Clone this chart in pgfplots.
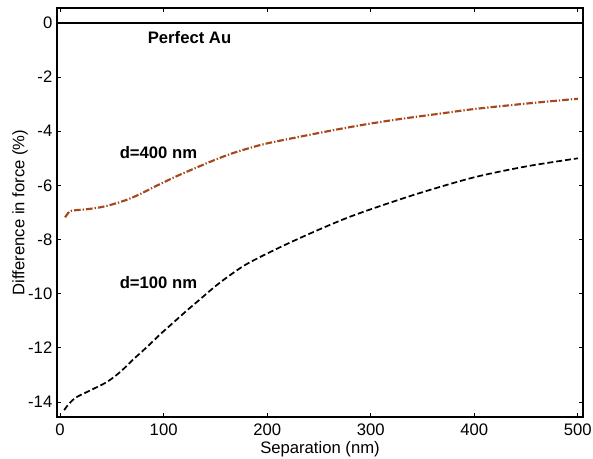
\documentclass[border=0pt]{standalone}
\usepackage{fontspec}
\setmainfont{Liberation Sans}
\usepackage{pgfplots}
\pgfplotsset{compat=1.18}
\definecolor{rust}{RGB}{165,72,28}

\begin{document}
\begin{tikzpicture}
\begin{axis}[
    scale only axis,
    width=394.5pt,
    height=306.75pt,
    xmin=-3, xmax=505,
    ymin=-14.55, ymax=0.55,
    xtick={0,100,...,500},
    ytick={-14,-12,...,0},
    tick align=inside,
    major tick length=3pt,
    axis line style={line width=1.4pt},
    tick style={black, line width=0.8pt},
    tick label style={font=\fontsize{12.5}{14}\selectfont},
    xticklabel style={yshift=-1.5pt},
    label style={font=\fontsize{12.5}{14}\selectfont},
    /pgf/number format/assume math mode=true,
    xlabel={Separation (nm)},
    ylabel={Difference in force (\%)},
    xlabel style={at={(axis description cs:0.5,0)}, anchor=center, yshift=-24pt},
    ylabel style={yshift=-6.5pt},
    clip=true,
]
\addplot[black, line width=1.1pt] coordinates {(-3,0) (505,0)};

\addplot[rust, line width=1.6pt, dash pattern=on 5pt off 1.5pt on 1pt off 1.5pt, smooth] coordinates {
    (4.8,-7.18) (9,-6.97) (14,-6.92) (25.8,-6.88) (38.6,-6.81) (51.5,-6.69)
    (64.4,-6.53) (77.3,-6.32) (90.1,-6.07) (103.1,-5.83) (116,-5.60)
    (128.8,-5.39) (141.7,-5.18) (154.6,-4.98) (167.4,-4.80) (183,-4.62)
    (199.7,-4.45) (231.9,-4.20) (264,-3.96) (296,-3.74) (330,-3.54)
    (365,-3.36) (400,-3.18) (450,-2.98) (500,-2.80)
};

\addplot[black, line width=1.3pt, dash pattern=on 4.5pt off 2.2pt, smooth] coordinates {
    (4,-14.3) (6.5,-14.16) (14.5,-13.85) (29,-13.57) (45.1,-13.26) (58,-12.89)
    (70.8,-12.42) (83.8,-11.97) (96.6,-11.5) (109.5,-11.06) (122.4,-10.62)
    (135.3,-10.2) (148.1,-9.78) (161,-9.40) (180.4,-8.90) (212.6,-8.28)
    (244.7,-7.72) (277,-7.20) (309.2,-6.76) (350,-6.25) (400,-5.70)
    (450,-5.30) (500,-5.0)
};

\node[font=\bfseries\fontsize{12.5}{14}\selectfont] at (axis cs:125,-0.55) {Perfect Au};
\node[font=\bfseries\fontsize{12.5}{14}\selectfont] at (axis cs:95,-4.8) {d=400 nm};
\node[font=\bfseries\fontsize{12.5}{14}\selectfont] at (axis cs:95,-9.6) {d=100 nm};
\end{axis}
\pgfresetboundingbox
\useasboundingbox ([shift={(-42.75pt,-31.5pt)}]current axis.south west) rectangle ([shift={(7.5pt,6pt)}]current axis.north east);
\end{tikzpicture}
\end{document}
